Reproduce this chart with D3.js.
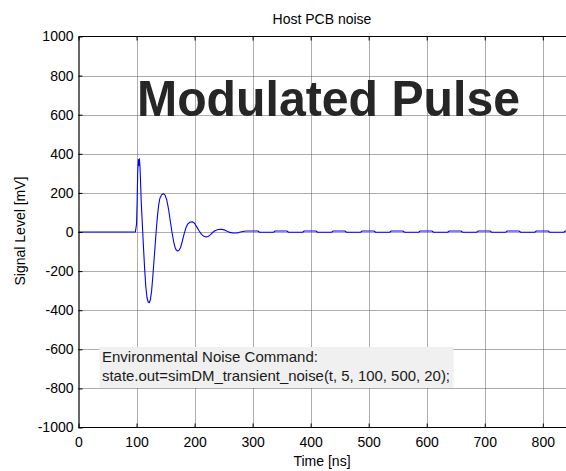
<!DOCTYPE html>
<html>
<head>
<meta charset="utf-8">
<script src="https://cdn.jsdelivr.net/npm/d3@7"></script>
<style>
  html, body { margin: 0; padding: 0; background: #fff; }
  svg { display: block; font-family: "Liberation Sans", Arial, sans-serif; }
</style>
</head>
<body>
<div id="chart"></div>
<script>
"use strict";
// time in ns, signal in mV
const pulseTime = [0, 98, 100, 101, 102, 103, 104, 105, 106, 107, 108, 110, 112, 114, 116, 118, 120, 122, 124, 126,
    128, 130, 132, 134, 136, 138, 140, 143, 146, 149, 152, 155, 158, 161, 164, 167, 170, 173, 176, 179,
    182, 185, 188, 192, 196, 200, 204, 208, 212, 216, 220, 224, 228, 232, 236, 241, 246, 251, 256, 261,
    266, 271, 276, 281, 286];
const pulseValue = [0, 0, 40, 150, 300, 370, 340, 375, 330, 250, 160, 40, -80, -190, -280, -335, -358, -362, -345, -300,
    -230, -150, -70, 10, 80, 135, 170, 190, 196, 190, 165, 120, 60, 0, -50, -85, -97, -95, -78, -45,
    -10, 20, 40, 50, 52, 45, 25, 5, -12, -22, -26, -22, -12, 0, 8, 13, 14, 11, 4, -2,
    -5, -5, -3, 1, 4];
// small residual ripple after the pulse
const rippleTime = [289, 309, 312, 336, 339, 359, 362, 386, 389, 409, 412, 436, 439, 459, 462, 486, 489, 509, 512, 536,
    539, 559, 562, 586, 589, 609, 612, 636, 639, 659, 662, 686, 689, 709, 712, 736, 739, 759, 762, 786,
    789, 809, 812, 836, 839, 840];
const rippleValue = [5, 5, -1, -1, 5, 5, -1, -1, 5, 5, -1, -1, 5, 5, -1, -1, 5, 5, -1, -1,
    5, 5, -1, -1, 5, 5, -1, -1, 5, 5, -1, -1, 5, 5, -1, -1, 5, 5, -1, -1,
    5, 5, -1, -1, 5, 5];
const xTicks = [0, 100, 200, 300, 400, 500, 600, 700, 800];
const yTicks = [-1000, -800, -600, -400, -200, 0, 200, 400, 600, 800, 1000];
const noteLines = ["Environmental Noise Command:", "state.out=simDM_transient_noise(t, 5, 100, 500, 20);"];

const W = 566, H = 471;
const margin = { top: 36.5, right: 0, bottom: 43.5, left: 78.5 };

const svg = d3.select("#chart").append("svg")
    .attr("width", W)
    .attr("height", H)
    .attr("viewBox", `0 0 ${W} ${H}`);

const x = d3.scaleLinear().domain([0, 840]).range([margin.left, W - margin.right]);
const y = d3.scaleLinear().domain([-1000, 1000]).range([H - margin.bottom, margin.top]);

const data = pulseTime.map((t, i) => [t, pulseValue[i]])
    .concat(rippleTime.map((t, i) => [t, rippleValue[i]]));

// grid
const grid = svg.append("g").attr("stroke", "#5a5a5a").attr("stroke-width", 1).attr("stroke-dasharray", "1,1");
grid.selectAll("line.gx").data(xTicks.slice(1)).join("line")
    .attr("x1", d => Math.round(x(d)) + 0.5).attr("x2", d => Math.round(x(d)) + 0.5)
    .attr("y1", y(1000)).attr("y2", y(-1000));
grid.selectAll("line.gy").data(yTicks.slice(1, -1)).join("line")
    .attr("y1", d => Math.round(y(d)) + 0.5).attr("y2", d => Math.round(y(d)) + 0.5)
    .attr("x1", x(0)).attr("x2", W);

// annotation box
const note = svg.append("g");
note.append("rect")
    .attr("x", 99.5).attr("y", 347).attr("width", 354).attr("height", 41)
    .attr("fill", "#f0f0f0");
note.selectAll("text").data(noteLines).join("text")
    .attr("x", 102).attr("y", (d, i) => 362 + i * 19)
    .attr("font-size", 15).attr("fill", "#1a1a1a")
    .attr("textLength", (d, i) => i === 1 ? 348 : null)
    .attr("lengthAdjust", "spacingAndGlyphs")
    .text(d => d);

// big label
svg.append("text")
    .attr("x", 137).attr("y", 116)
    .attr("font-size", 50).attr("font-weight", "bold").attr("fill", "#262626")
    .attr("textLength", 383).attr("lengthAdjust", "spacingAndGlyphs")
    .text("Modulated Pulse");

// signal
svg.append("path")
    .datum(data)
    .attr("fill", "none")
    .attr("stroke", "#0000ff")
    .attr("stroke-width", 1.1)
    .attr("stroke-linejoin", "round")
    .attr("d", d3.line().x(d => x(d[0])).y(d => y(d[1])));

// axes (MATLAB style: inward ticks, plain hyphen minus)
const fmt = d3.formatLocale({ decimal: ".", thousands: "", grouping: [3], currency: ["", ""], minus: "-" }).format("d");
const xb = svg.append("g").attr("transform", `translate(0,${y(-1000)})`)
    .call(d3.axisBottom(x).tickValues(xTicks).tickFormat(fmt).tickSizeInner(-4).tickSizeOuter(0).tickPadding(10));
const xt = svg.append("g").attr("transform", `translate(0,${y(1000)})`)
    .call(d3.axisTop(x).tickValues(xTicks).tickSizeInner(-4).tickSizeOuter(0).tickFormat(""));
const yl = svg.append("g").attr("transform", `translate(${x(0)},0)`)
    .call(d3.axisLeft(y).tickValues(yTicks).tickFormat(fmt).tickSizeInner(-4).tickSizeOuter(0).tickPadding(5));
[xb, xt, yl].forEach(g => {
    g.select(".domain").attr("stroke", "#000").attr("stroke-width", 1.2);
    g.selectAll(".tick line").attr("stroke", "#000");
    g.selectAll(".tick text").attr("font-size", 14).attr("fill", "#000").attr("font-family", "Liberation Sans, Arial, sans-serif");
});
xb.select(".domain").attr("d", `M${x(0)},0H${W}`);
xt.select(".domain").attr("d", `M${x(0)},0H${W}`);

// titles
svg.append("text")
    .attr("x", 322).attr("y", 24).attr("text-anchor", "middle")
    .attr("font-size", 14).text("Host PCB noise");
svg.append("text")
    .attr("x", 322).attr("y", 466).attr("text-anchor", "middle")
    .attr("font-size", 14).text("Time [ns]");
svg.append("text")
    .attr("transform", `translate(25,231) rotate(-90)`)
    .attr("text-anchor", "middle")
    .attr("font-size", 14).text("Signal Level [mV]");
</script>
</body>
</html>
